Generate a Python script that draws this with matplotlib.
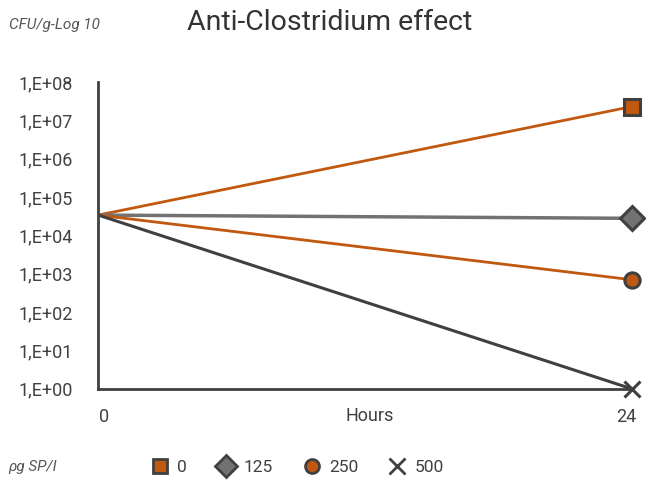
import matplotlib
matplotlib.use('Agg')
from matplotlib import pyplot as plt
from matplotlib.lines import Line2D
from matplotlib.transforms import ScaledTranslation

plt.rcParams['font.family'] = ['Roboto', 'DejaVu Sans']

# data
hours = [0, 24]
doses = ['0', '125', '250', '500']
cfu = {
    '0': [3.4e4, 2.3e7],
    '125': [3.4e4, 2.8e4],
    '250': [3.4e4, 7.0e2],
    '500': [3.4e4, 1.0e0],
}
ytick_vals = [10.0 ** k for k in range(0, 9)]
ytick_labels = ['1,E+%02d' % k for k in range(0, 9)]

orange = '#C0580F'
grey = '#727272'
dark = '#404040'
textc = '#404040'

styles = {
    '0': dict(color=orange, marker='s', ms=11, mfc=orange, lw=2),
    '125': dict(color=grey, marker='D', ms=12, mfc=grey, lw=2.5),
    '250': dict(color=orange, marker='o', ms=11, mfc=orange, lw=2),
    '500': dict(color=dark, marker='x', ms=12, mfc=dark, lw=2.2),
}

fig = plt.figure(figsize=(6.46, 4.83), dpi=100)
ax = fig.add_axes([0.152, 0.195, 0.826, 0.635])

for d in doses:
    s = styles[d]
    # line first, marker only at the 24 h point
    ax.plot(hours, cfu[d], color=s['color'], lw=s['lw'], zorder=2)
    ax.plot(hours[-1:], cfu[d][-1:], linestyle='none', marker=s['marker'],
            ms=s['ms'], mfc=s['mfc'], mec=dark, mew=2.2, clip_on=False, zorder=3)

ax.set_yscale('log')
ax.set_ylim(1, 1e8)
ax.set_xlim(0, 24)
ax.set_yticks(ytick_vals)
ax.set_yticklabels(ytick_labels)
ax.minorticks_off()
ax.set_xticks(hours)
ax.tick_params(length=0, labelsize=13, colors=textc)
ax.tick_params(axis='y', pad=18)
ax.tick_params(axis='x', pad=14)

# nudge the x labels inward like the original
shifts = [6, -6]
for lab, dx in zip(ax.get_xticklabels(), shifts):
    lab.set_transform(lab.get_transform() + ScaledTranslation(dx / 100, 0, fig.dpi_scale_trans))

for sp in ['top', 'right']:
    ax.spines[sp].set_visible(False)
for sp in ['left', 'bottom']:
    ax.spines[sp].set_color(dark)
    ax.spines[sp].set_linewidth(2)

# axis name sits on the same line as the tick labels
fig.text(370 / 646, 1 - 416 / 483, 'Hours', ha='center', va='center', fontsize=13, color=textc)

fig.text(0.511, 0.954, 'Anti-Clostridium effect', ha='center', va='center',
         fontsize=20.5, color='#333333')
fig.text(0.014, 0.948, 'CFU/g-Log 10', ha='left', va='center', fontsize=11,
         style='italic', color='#555555')
fig.text(0.013, 0.033, 'ρg SP/I', ha='left', va='center', fontsize=11,
         style='italic', color='#555555')

handles = []
for d in doses:
    s = styles[d]
    handles.append(Line2D([], [], linestyle='none', marker=s['marker'], ms=s['ms'] - 1,
                          mfc=s['mfc'], mec=dark, mew=2, label=d))
leg = fig.legend(handles=handles, loc='center left', bbox_to_anchor=(0.207, 0.033),
                 ncol=4, frameon=False, fontsize=12.5, handletextpad=0.4,
                 columnspacing=1.65, handlelength=1.2)
for t in leg.get_texts():
    t.set_color(textc)

fig.savefig('out.png', dpi=100)
